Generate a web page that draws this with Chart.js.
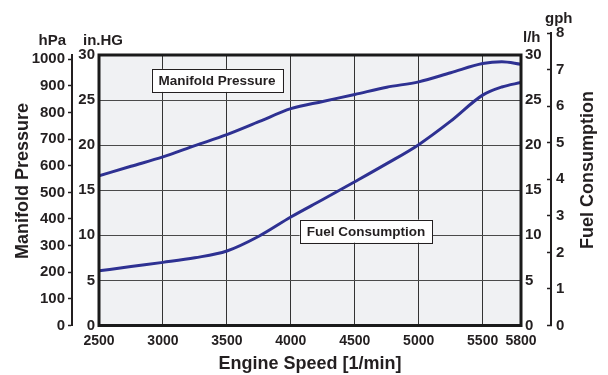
<!DOCTYPE html>
<html>
<head>
<meta charset="utf-8">
<script src="https://cdn.jsdelivr.net/npm/chart.js@4.4.1/dist/chart.umd.min.js"></script>
<style>
  html, body { margin: 0; padding: 0; background: #fff; }
  #wrap { width: 608px; height: 375px; }
</style>
</head>
<body>
<div id="wrap"><canvas id="chart" width="608" height="375"></canvas></div>
<script>
// engine speed samples and the two curves
const rpm = [2500, 2750, 3000, 3250, 3500, 3750, 4000, 4250, 4500, 4750, 5000, 5250, 5500, 5650, 5800];
const manifoldInHg = [16.6, 17.66, 18.7, 19.95, 21.17, 22.6, 24.05, 24.85, 25.62, 26.43, 27.02, 28.03, 29.06, 29.26, 28.98];
const fuelLh = [6.06, 6.54, 7.0, 7.51, 8.26, 9.9, 12.03, 13.97, 15.94, 17.95, 20.06, 22.66, 25.55, 26.45, 26.95];

// tick labels
const rpmTicks = [2500, 3000, 3500, 4000, 4500, 5000, 5500, 5800];
const inHgTicks = [0, 5, 10, 15, 20, 25, 30];
const hPaTicks = [0, 100, 200, 300, 400, 500, 600, 700, 800, 900, 1000];
const lhTicks = [0, 5, 10, 15, 20, 25, 30];
const gphTicks = [0, 1, 2, 3, 4, 5, 6, 7, 8];

const FONT = "'Liberation Sans', Arial, Helvetica, sans-serif";
const INK = '#231f20';
const LINE = '#2e3192';

Chart.defaults.font.family = FONT;
Chart.defaults.color = INK;

function fixedTicks(list) {
    return function (scale) {
        scale.ticks = list.map(v => ({ value: v }));
    };
}

function plain(v) { return String(v); }

// background, frame, inline labels, unit captions
const plotFrame = {
    id: 'plotFrame',
    afterLayout(chart) {
        // gph axis runs a bit higher than the plot box
        const g = chart.scales.gph;
        g.top = chart.chartArea.top - 22;
        g.configure();
    },
    beforeDraw(chart) {
        const { ctx, chartArea: a } = chart;
        ctx.save();
        ctx.fillStyle = '#f0f1f3';
        ctx.fillRect(a.left, a.top, a.right - a.left, a.bottom - a.top);
        ctx.restore();
    },
    afterDatasetsDraw(chart) {
        const { ctx, chartArea: a, scales } = chart;
        ctx.save();
        ctx.strokeStyle = '#1a1a1a';
        ctx.lineWidth = 3;
        ctx.strokeRect(a.left, a.top, a.right - a.left, a.bottom - a.top);

        const boxes = [
            { text: 'Manifold Pressure', x: 3423, y: 27.18, axis: 'inhg' },
            { text: 'Fuel Consumption', x: 4587, y: 10.46, axis: 'lh' }
        ];
        ctx.font = 'bold 13.5px ' + FONT;
        ctx.textAlign = 'center';
        ctx.textBaseline = 'middle';
        boxes.forEach(b => {
            const cx = scales.x.getPixelForValue(b.x);
            const cy = scales[b.axis].getPixelForValue(b.y);
            const w = ctx.measureText(b.text).width + 14;
            const h = 23;
            ctx.fillStyle = '#fff';
            ctx.fillRect(cx - w / 2, cy - h / 2, w, h);
            ctx.strokeStyle = INK;
            ctx.lineWidth = 1;
            ctx.strokeRect(Math.round(cx - w / 2) + 0.5, Math.round(cy - h / 2) + 0.5, Math.round(w), h);
            ctx.fillStyle = INK;
            ctx.fillText(b.text, cx, cy + 1);
        });
        ctx.restore();
    },
    afterDraw(chart) {
        const { ctx, scales } = chart;
        ctx.save();
        ctx.fillStyle = INK;
        ctx.textBaseline = 'middle';

        ctx.font = 'bold 15px ' + FONT;
        ctx.textAlign = 'right';
        ctx.fillText('hPa', scales.hpa.right - 6, 41);
        ctx.textAlign = 'left';
        ctx.fillText('in.HG', scales.inhg.left + 11, 41);
        ctx.fillText('l/h', scales.lh.left + 2, 38);
        ctx.fillText('gph', scales.gph.left - 6, 19);

        ctx.font = 'bold 18px ' + FONT;
        ctx.textAlign = 'center';
        ctx.translate(23, 181);
        ctx.rotate(-Math.PI / 2);
        ctx.fillText('Manifold Pressure', 0, 0);
        ctx.setTransform(1, 0, 0, 1, 0, 0);
        ctx.translate(588, 170);
        ctx.rotate(-Math.PI / 2);
        ctx.fillText('Fuel Consumption', 0, 0);
        ctx.restore();
    }
};

const ctx = document.getElementById('chart').getContext('2d');

new Chart(ctx, {
    type: 'line',
    data: {
        datasets: [
            {
                label: 'Manifold Pressure',
                data: rpm.map((r, i) => ({ x: r, y: manifoldInHg[i] })),
                yAxisID: 'inhg',
                borderColor: LINE,
                borderWidth: 3,
                pointRadius: 0,
                cubicInterpolationMode: 'monotone'
            },
            {
                label: 'Fuel Consumption',
                data: rpm.map((r, i) => ({ x: r, y: fuelLh[i] })),
                yAxisID: 'lh',
                borderColor: LINE,
                borderWidth: 3,
                pointRadius: 0,
                cubicInterpolationMode: 'monotone'
            }
        ]
    },
    options: {
        responsive: false,
        animation: false,
        devicePixelRatio: 1,
        layout: { padding: { top: 55, left: 32, right: 0, bottom: 0 } },
        plugins: {
            legend: { display: false },
            tooltip: { enabled: false }
        },
        scales: {
            x: {
                type: 'linear',
                min: 2500,
                max: 5800,
                afterBuildTicks: fixedTicks(rpmTicks),
                afterFit(s) { s.height = 49.5; },
                border: { display: false },
                grid: { color: '#333', lineWidth: 1, drawTicks: false },
                ticks: {
                    autoSkip: false,
                    maxRotation: 0,
                    padding: 7,
                    callback: plain,
                    font: { size: 14, weight: 'bold' }
                },
                title: {
                    display: true,
                    text: 'Engine Speed [1/min]',
                    padding: { top: 0, bottom: 0 },
                    font: { size: 18, weight: 'bold' }
                }
            },
            hpa: {
                position: 'left',
                weight: 1,
                min: 0,
                max: 30 * 33.8639,
                afterBuildTicks: fixedTicks(hPaTicks),
                afterFit(s) { s.width = 40; },
                border: { display: true, color: INK, width: 2 },
                grid: { drawOnChartArea: false, tickLength: 4, tickColor: INK, tickWidth: 1.5 },
                ticks: { padding: 3, callback: plain, font: { size: 15, weight: 'bold' } }
            },
            inhg: {
                position: 'left',
                weight: 0,
                min: 0,
                max: 30,
                afterBuildTicks: fixedTicks(inHgTicks),
                afterFit(s) { s.width = 27; },
                border: { display: false },
                grid: { color: '#4a4a4a', lineWidth: 1, drawTicks: false },
                ticks: { padding: 4, callback: plain, font: { size: 15, weight: 'bold' } }
            },
            lh: {
                position: 'right',
                weight: 0,
                min: 0,
                max: 30,
                afterBuildTicks: fixedTicks(lhTicks),
                afterFit(s) { s.width = 30; },
                border: { display: false },
                grid: { drawOnChartArea: false, drawTicks: false },
                ticks: { padding: 4, callback: plain, font: { size: 15, weight: 'bold' } }
            },
            gph: {
                position: 'right',
                weight: 1,
                min: 0,
                max: 8,
                afterBuildTicks: fixedTicks(gphTicks),
                afterFit(s) { s.width = 57; },
                border: { display: true, color: INK, width: 2 },
                grid: { drawOnChartArea: false, tickLength: -4, tickColor: INK, tickWidth: 1.5 },
                ticks: { padding: 9, callback: plain, font: { size: 15, weight: 'bold' } }
            }
        }
    },
    plugins: [plotFrame]
});
</script>
</body>
</html>
